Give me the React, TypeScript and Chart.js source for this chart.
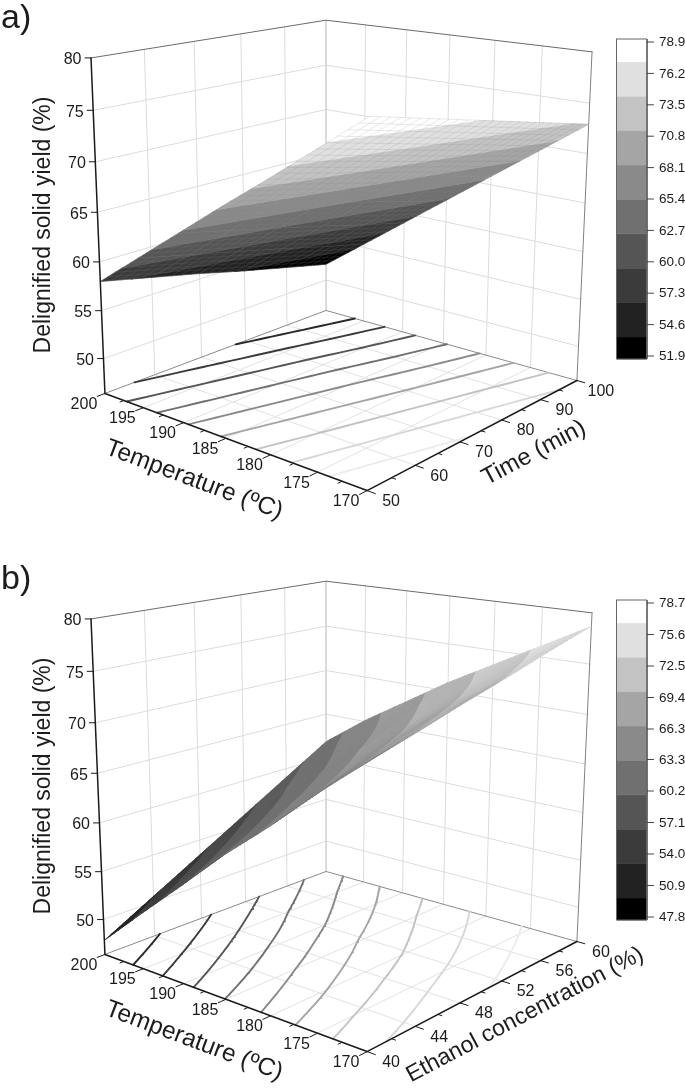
import React, { useEffect, useRef } from "react";
import { Chart, registerables } from "chart.js";

Chart.register(...registerables);

// ---------- values ----------
const temperatureTicks = [200, 195, 190, 185, 180, 175, 170];
const timeTicks = [50, 60, 70, 80, 90, 100];
const ethanolTicks = [40, 44, 48, 52, 56, 60];
const yieldTicks = [50, 55, 60, 65, 70, 75, 80];
const yieldAxisMin = 46.3;

// rows: temperatureTicks, columns: timeTicks
const yieldByTime = [
  [58.0, 56.8, 55.6, 54.3, 53.1, 51.9],
  [61.5, 60.3, 59.1, 57.9, 56.6, 55.4],
  [65.0, 63.8, 62.6, 61.4, 60.1, 58.9],
  [68.5, 67.3, 66.1, 64.9, 63.6, 62.4],
  [71.9, 70.7, 69.5, 68.3, 67.1, 65.9],
  [75.4, 74.2, 73.0, 71.8, 70.6, 69.4],
  [78.9, 77.7, 76.5, 75.3, 74.1, 72.9],
];
// rows: temperatureTicks, columns: ethanolTicks
const yieldByEthanol = [
  [47.8, 50.6, 53.4, 56.2, 59.0, 61.8],
  [52.0, 54.6, 57.2, 59.9, 62.5, 65.1],
  [56.1, 58.5, 60.9, 63.2, 65.6, 68.0],
  [60.3, 62.4, 64.5, 66.7, 68.8, 70.9],
  [64.1, 66.0, 67.9, 69.7, 71.6, 73.5],
  [68.2, 69.8, 71.4, 72.9, 74.5, 76.1],
  [72.0, 73.3, 74.7, 76.0, 77.4, 78.7],
];
const legendLabelsA = ["78.9", "76.2", "73.5", "70.8", "68.1", "65.4", "62.7", "60.0", "57.3", "54.6", "51.9"];
const legendLabelsB = ["78.7", "75.6", "72.5", "69.4", "66.3", "63.3", "60.2", "57.1", "54.0", "50.9", "47.8"];
const bandGrays = ["#000000", "#222222", "#3b3b3b", "#555555", "#707070", "#8a8a8a", "#a5a5a5", "#c3c3c3", "#e0e0e0", "#ffffff"];
const contourGrays = ["#2a2a2a", "#3b3b3b", "#555555", "#707070", "#8a8a8a", "#a5a5a5", "#c3c3c3", "#d8d8d8", "#ececec"];

// ---------- camera, fitted on the corners of the box ----------
const boxCorners = [
  [0, 0, 1, 91, 58],
  [0, 0, 0, 105, 393],
  [0, 1, 1, 326, 20],
  [0, 1, 0, 326, 311],
  [1, 1, 1, 592, 52],
  [1, 1, 0, 577, 380],
  [1, 0, 0, 367, 491],
];

function fitCamera(): number[] {
  const rows: number[][] = [];
  const rhs: number[] = [];
  for (const [u, v, w, x, y] of boxCorners) {
    rows.push([u, v, w, 1, 0, 0, 0, 0, -x * u, -x * v, -x * w]);
    rhs.push(x);
    rows.push([0, 0, 0, 0, u, v, w, 1, -y * u, -y * v, -y * w]);
    rhs.push(y);
  }
  const n = 11;
  const m: number[][] = [];
  for (let a = 0; a < n; a++) {
    const line = new Array(n + 1).fill(0);
    rows.forEach((r, k) => {
      for (let b = 0; b < n; b++) line[b] += r[a] * r[b];
      line[n] += r[a] * rhs[k];
    });
    m.push(line);
  }
  for (let c = 0; c < n; c++) {
    let p = c;
    for (let r = c + 1; r < n; r++) if (Math.abs(m[r][c]) > Math.abs(m[p][c])) p = r;
    [m[c], m[p]] = [m[p], m[c]];
    for (let r = 0; r < n; r++) {
      if (r === c) continue;
      const f = m[r][c] / m[c][c];
      for (let k = c; k <= n; k++) m[r][k] -= f * m[c][k];
    }
  }
  return m.map((l, i) => l[n] / l[i]);
}
const cam = fitCamera();
function project(u: number, v: number, w: number, dy: number) {
  const d = cam[8] * u + cam[9] * v + cam[10] * w + 1;
  return {
    x: (cam[0] * u + cam[1] * v + cam[2] * w + cam[3]) / d,
    y: (cam[4] * u + cam[5] * v + cam[6] * w + cam[7]) / d + dy,
  };
}

const T0 = temperatureTicks[0];
const T1 = temperatureTicks[temperatureTicks.length - 1];
const uOf = (T: number) => (T0 - T) / (T0 - T1);
const wOf = (z: number) => (z - yieldAxisMin) / (yieldTicks[yieldTicks.length - 1] - yieldAxisMin);

type P = { x: number | null; y: number | null };
type Txt = { s: string; x: number; y: number; font: string; align?: CanvasTextAlign; base?: CanvasTextBaseline; rot?: number };

const SANS = '"Liberation Sans", Arial, sans-serif';

const panels = [
  { tag: "a)", dy: 0, second: timeTicks, table: yieldByTime, legend: legendLabelsA, title: "Time (min)", titleX: 534, titleY: 453, titleSize: 24, sub: 5, mesh: "rgba(135,135,135,0.3)" },
  { tag: "b)", dy: 561, second: ethanolTicks, table: yieldByEthanol, legend: legendLabelsB, title: "Ethanol concentration (%)", titleX: 525, titleY: 454, titleSize: 23, sub: 8, mesh: "rgba(115,115,115,0.3)" },
];

function buildScene() {
  const datasets: any[] = [];
  const texts: Txt[] = [];
  const line = (data: P[], color: string, width: number) =>
    datasets.push({ type: "scatter", data, showLine: true, borderColor: color, borderWidth: width, pointRadius: 0, tension: 0, borderCapStyle: "round", fill: false });
  const poly = (data: P[], color: string) =>
    datasets.push({ type: "scatter", data, showLine: false, pointRadius: 0, polyFill: color });

  for (const pn of panels) {
    const { dy, second, table, sub } = pn;
    const vals = pn.legend.map(Number);
    const levels = vals.slice(1, -1).reverse();
    const S0 = second[0];
    const S1 = second[second.length - 1];
    const vOf = (s: number) => (s - S0) / (S1 - S0);
    const pr = (u: number, v: number, w: number) => project(u, v, w, dy);
    const gridC = "#dcdcdc";

    // walls
    for (const z of yieldTicks.slice(0, -1)) {
      const w = wOf(z);
      line([pr(0, 0, w), pr(0, 1, w)], gridC, 1);
      line([pr(0, 1, w), pr(1, 1, w)], gridC, 1);
    }
    for (const s of second.slice(1, -1)) line([pr(0, vOf(s), 0), pr(0, vOf(s), 1)], gridC, 1);
    for (const T of temperatureTicks.slice(1, -1)) line([pr(uOf(T), 1, 0), pr(uOf(T), 1, 1)], gridC, 1);
    // floor
    for (const s of second.slice(1, -1)) line([pr(0, vOf(s), 0), pr(1, vOf(s), 0)], "#e2e2e2", 1);
    for (const T of temperatureTicks.slice(1, -1)) line([pr(uOf(T), 0, 0), pr(uOf(T), 1, 0)], "#e2e2e2", 1);

    // back edges of the box, behind the surface
    line([pr(0, 1, 0), pr(0, 1, 1)], "#cfcfcf", 1.5);
    line([pr(0, 0, 1), pr(0, 1, 1), pr(1, 1, 1)], "#6a6a6a", 1);
    line([pr(1, 1, 1), pr(1, 1, 0)], "#808080", 1);
    line([pr(0, 0, 0), pr(0, 1, 0), pr(1, 1, 0)], "#8a8a8a", 1);

    // table lookup
    const rowsN = table.length;
    const colsN = second.length;
    const at = (fi: number, fj: number) => {
      const i = Math.min(Math.floor(fi), rowsN - 2);
      const j = Math.min(Math.floor(fj), colsN - 2);
      const a = fi - i;
      const b = fj - j;
      return (1 - a) * ((1 - b) * table[i][j] + b * table[i][j + 1]) + a * ((1 - b) * table[i + 1][j] + b * table[i + 1][j + 1]);
    };
    const uAt = (fi: number) => fi / (rowsN - 1);
    const vAt = (fj: number) => fj / (colsN - 1);

    // contour lines on the floor
    levels.forEach((lev, k) => {
      const seg: P[] = [];
      for (let a = 0; a < (rowsN - 1) * sub; a++) {
        for (let b = 0; b < (colsN - 1) * sub; b++) {
          const c = [[a, b], [a + 1, b], [a + 1, b + 1], [a, b + 1]].map(([x, y]) => ({ u: uAt(x / sub), v: vAt(y / sub), z: at(x / sub, y / sub) }));
          const cross: P[] = [];
          for (let e = 0; e < 4; e++) {
            const p = c[e];
            const q = c[(e + 1) % 4];
            if ((p.z < lev) !== (q.z < lev)) {
              const t = (lev - p.z) / (q.z - p.z);
              cross.push(pr(p.u + t * (q.u - p.u), p.v + t * (q.v - p.v), 0));
            }
          }
          if (cross.length >= 2) seg.push(cross[0], cross[1], { x: null, y: null });
        }
      }
      line(seg, contourGrays[k], 1.9);
    });

    // surface: painted from the back corner to the front corner
    const clip = (pts: number[][], lev: number, above: boolean) => {
      const out: number[][] = [];
      for (let n = 0; n < pts.length; n++) {
        const p = pts[n];
        const q = pts[(n + 1) % pts.length];
        const pIn = above ? p[2] >= lev : p[2] <= lev;
        const qIn = above ? q[2] >= lev : q[2] <= lev;
        if (pIn) out.push(p);
        if (pIn !== qIn) {
          const t = (lev - p[2]) / (q[2] - p[2]);
          out.push([p[0] + t * (q[0] - p[0]), p[1] + t * (q[1] - p[1]), lev]);
        }
      }
      return out;
    };
    for (let i = 0; i < rowsN - 1; i++) {
      for (let j = colsN - 2; j >= 0; j--) {
        const bands: P[][] = bandGrays.map(() => []);
        for (let si = 0; si < sub; si++) {
          for (let sj = sub - 1; sj >= 0; sj--) {
            const quad = [[si, sj], [si + 1, sj], [si + 1, sj + 1], [si, sj + 1]].map(([x, y]) => {
              const fi = i + x / sub;
              const fj = j + y / sub;
              return [uAt(fi), vAt(fj), at(fi, fj)];
            });
            bandGrays.forEach((_, b) => {
              let pts = quad;
              if (b > 0) pts = clip(pts, levels[b - 1], true);
              if (pts.length && b < levels.length) pts = clip(pts, levels[b], false);
              if (pts.length >= 3) {
                pts.forEach((q) => bands[b].push(pr(q[0], q[1], wOf(q[2]))));
                bands[b].push({ x: null, y: null });
              }
            });
          }
        }
        bands.forEach((d, b) => {
          if (d.length) poly(d, bandGrays[b]);
        });
      }
    }
    // surface mesh
    for (let a = 0; a <= (rowsN - 1) * sub; a++) {
      const d: P[] = [];
      for (let b = 0; b <= (colsN - 1) * sub; b++) d.push(pr(uAt(a / sub), vAt(b / sub), wOf(at(a / sub, b / sub))));
      line(d, pn.mesh, 0.6);
    }
    for (let b = 0; b <= (colsN - 1) * sub; b++) {
      const d: P[] = [];
      for (let a = 0; a <= (rowsN - 1) * sub; a++) d.push(pr(uAt(a / sub), vAt(b / sub), wOf(at(a / sub, b / sub))));
      line(d, pn.mesh, 0.6);
    }

    // front axes
    line([pr(0, 0, 1), pr(0, 0, 0)], "#1a1a1a", 1.5);
    line([pr(0, 0, 0), pr(1, 0, 0)], "#1a1a1a", 1.5);
    line([pr(1, 0, 0), pr(1, 1, 0)], "#1a1a1a", 1.5);

    // vertical axis ticks and labels
    const tickFont = `16px ${SANS}`;
    for (const z of yieldTicks) {
      const p = pr(0, 0, wOf(z));
      line([p, { x: p.x - 6, y: p.y }], "#1a1a1a", 1);
      texts.push({ s: String(z), x: p.x - 9.5, y: p.y + 2, font: tickFont, align: "right", base: "middle" });
    }
    // temperature axis
    temperatureTicks.forEach((T, n) => {
      const u = uOf(T);
      const p = pr(u, 0, 0);
      line([p, pr(u, -0.03, 0)], "#1a1a1a", 1);
      if (n < temperatureTicks.length - 1) {
        const um = (u + uOf(temperatureTicks[n + 1])) / 2;
        line([pr(um, 0, 0), pr(um, -0.015, 0)], "#1a1a1a", 1);
      }
      texts.push({ s: String(T), x: p.x - 21, y: p.y + 11, font: tickFont, align: "center", base: "middle" });
    });
    // second floor axis
    second.forEach((s, n) => {
      const v = vOf(s);
      const p = pr(1, v, 0);
      line([p, pr(1.027, v, 0)], "#1a1a1a", 1);
      if (n < second.length - 1) {
        const vm = (v + vOf(second[n + 1])) / 2;
        line([pr(1, vm, 0), pr(1.013, vm, 0)], "#1a1a1a", 1);
      }
      texts.push({ s: String(s), x: p.x + 24, y: p.y + 11, font: tickFont, align: "center", base: "middle" });
    });

    // colour scale
    const L = { left: 616.5, right: 647, first: 42 + dy, last: 356 + dy, pad: 3, endBand: 22, band: 34.4 };
    const yOf = (z: number) => L.first + ((vals[0] - z) / (vals[0] - vals[vals.length - 1])) * (L.last - L.first);
    const t = L.first - L.pad;
    const bt = L.last + L.pad;
    bandGrays.forEach((c, b) => {
      const bot = b === 0 ? bt : bt - L.endBand - (b - 1) * L.band;
      const top = b === bandGrays.length - 1 ? t : bt - L.endBand - b * L.band;
      poly([{ x: L.left, y: top }, { x: L.right, y: top }, { x: L.right, y: bot }, { x: L.left, y: bot }], c);
    });
    line([{ x: L.left, y: t }, { x: L.right, y: t }, { x: L.right, y: bt }, { x: L.left, y: bt }, { x: L.left, y: t }], "#666666", 1);
    pn.legend.forEach((lab, n) => {
      const y = yOf(vals[n]);
      line([{ x: L.right, y }, { x: L.right + 6.5, y }], "#444444", 1);
      texts.push({ s: lab, x: 659, y: y + 0.5, font: `13.5px ${SANS}`, align: "left", base: "middle" });
    });

    // titles
    texts.push({ s: pn.tag, x: 1, y: 28 + dy, font: `34px ${SANS}`, align: "left", base: "alphabetic" });
    texts.push({ s: "Delignified solid yield (%)", x: 50, y: 225 + dy, font: `23px ${SANS}`, align: "center", base: "alphabetic", rot: -Math.PI / 2 });
    texts.push({ s: "Temperature (ºC)", x: 194, y: 480 + dy, font: `24.5px ${SANS}`, align: "center", base: "middle", rot: (20.5 * Math.PI) / 180 });
    texts.push({ s: pn.title, x: pn.titleX, y: pn.titleY + dy, font: `${pn.titleSize}px ${SANS}`, align: "center", base: "middle", rot: (-27.9 * Math.PI) / 180 });
  }
  return { datasets: datasets.reverse(), texts };
}

export default function App() {
  const ref = useRef<HTMLCanvasElement>(null);
  useEffect(() => {
    if (!ref.current) return;
    const { datasets, texts } = buildScene();
    const polygons = {
      id: "polygons",
      beforeDatasetDraw(chart: any, args: any) {
        const ds = chart.data.datasets[args.index];
        if (!ds.polyFill) return;
        const ctx = chart.ctx;
        ctx.save();
        ctx.fillStyle = ds.polyFill;
        ctx.strokeStyle = ds.polyFill;
        ctx.lineWidth = 0.6;
        ctx.lineJoin = "round";
        ctx.beginPath();
        let open = false;
        for (const el of args.meta.data) {
          if (el.skip || !Number.isFinite(el.x)) {
            if (open) ctx.closePath();
            open = false;
            continue;
          }
          if (!open) ctx.moveTo(el.x, el.y);
          else ctx.lineTo(el.x, el.y);
          open = true;
        }
        if (open) ctx.closePath();
        ctx.fill();
        ctx.stroke();
        ctx.restore();
      },
    };
    const labels = {
      id: "labels",
      afterDraw(chart: any) {
        const ctx = chart.ctx;
        for (const t of texts) {
          ctx.save();
          ctx.translate(t.x, t.y);
          if (t.rot) ctx.rotate(t.rot);
          ctx.font = t.font;
          ctx.fillStyle = "#1c1c1c";
          ctx.textAlign = t.align || "left";
          ctx.textBaseline = t.base || "alphabetic";
          ctx.fillText(t.s, 0, 0);
          ctx.restore();
        }
      },
    };
    const chart = new Chart(ref.current, {
      type: "scatter",
      data: { datasets },
      plugins: [polygons, labels],
      options: {
        animation: false,
        responsive: false,
        devicePixelRatio: 1,
        events: [],
        layout: { padding: 0 },
        elements: { point: { radius: 0 } },
        plugins: { legend: { display: false }, tooltip: { enabled: false }, title: { display: false } },
        scales: {
          x: { type: "linear", min: 0, max: 685, display: false },
          y: { type: "linear", min: 0, max: 1088, reverse: true, display: false },
        },
      },
    } as any);
    return () => chart.destroy();
  }, []);
  return (
    <canvas
      ref={ref}
      width={685}
      height={1088}
      style={{ position: "absolute", left: 0, top: 0, width: 685, height: 1088, display: "block", background: "#ffffff" }}
    />
  );
}
